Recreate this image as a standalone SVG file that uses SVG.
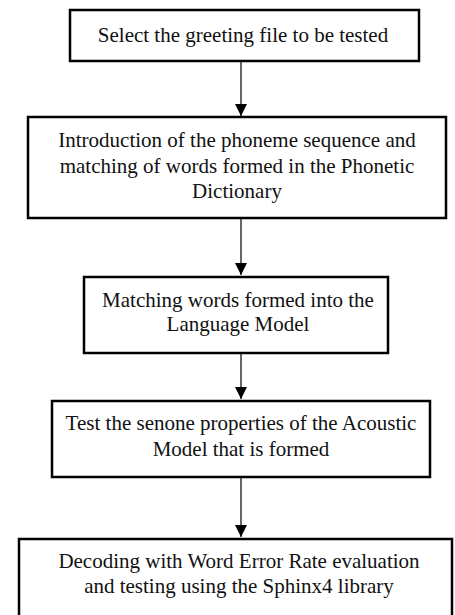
<svg xmlns="http://www.w3.org/2000/svg" width="455" height="615" viewBox="0 0 455 615">
<defs>
<style>
.box{fill:#fff;stroke:#000;stroke-width:2.5}
.t{font-family:"Liberation Serif","Times New Roman",serif;font-size:21px;fill:#111;text-anchor:middle}
.c{stroke:#000;stroke-width:1.2;fill:none}
</style>
<marker id="ah" markerWidth="12" markerHeight="12" refX="10" refY="5" orient="auto" markerUnits="userSpaceOnUse" viewBox="0 0 10 10">
<path d="M0,0 L10,5 L0,10 z" fill="#000"/>
</marker>
</defs>
<rect width="455" height="615" fill="#fff"/>
<g id="connectors">
<line class="c" x1="241" y1="61" x2="241" y2="116" marker-end="url(#ah)"/>
<line class="c" x1="241" y1="218" x2="241" y2="275" marker-end="url(#ah)"/>
<line class="c" x1="241" y1="353" x2="241" y2="399" marker-end="url(#ah)"/>
<line class="c" x1="241" y1="477" x2="241" y2="537" marker-end="url(#ah)"/>
</g>
<g id="n1">
<rect class="box" x="70" y="10" width="349" height="51"/>
<text class="t" x="243" y="42">Select the greeting file to be tested</text>
</g>
<g id="n2">
<rect class="box" x="28" y="117" width="418" height="101"/>
<text class="t" x="237" y="147">Introduction of the phoneme sequence and</text>
<text class="t" x="237" y="173">matching of words formed in the Phonetic</text>
<text class="t" x="237" y="198">Dictionary</text>
</g>
<g id="n3">
<rect class="box" x="84" y="277" width="304" height="76"/>
<text class="t" x="238" y="307">Matching words formed into the</text>
<text class="t" x="238" y="331">Language Model</text>
</g>
<g id="n4">
<rect class="box" x="52" y="401" width="378" height="76"/>
<text class="t" x="241" y="430">Test the senone properties of the Acoustic</text>
<text class="t" x="241" y="456">Model that is formed</text>
</g>
<g id="n5">
<rect class="box" x="19" y="539" width="433" height="90"/>
<text class="t" x="239" y="568">Decoding with Word Error Rate evaluation</text>
<text class="t" x="239" y="593">and testing using the Sphinx4 library</text>
</g>
</svg>
